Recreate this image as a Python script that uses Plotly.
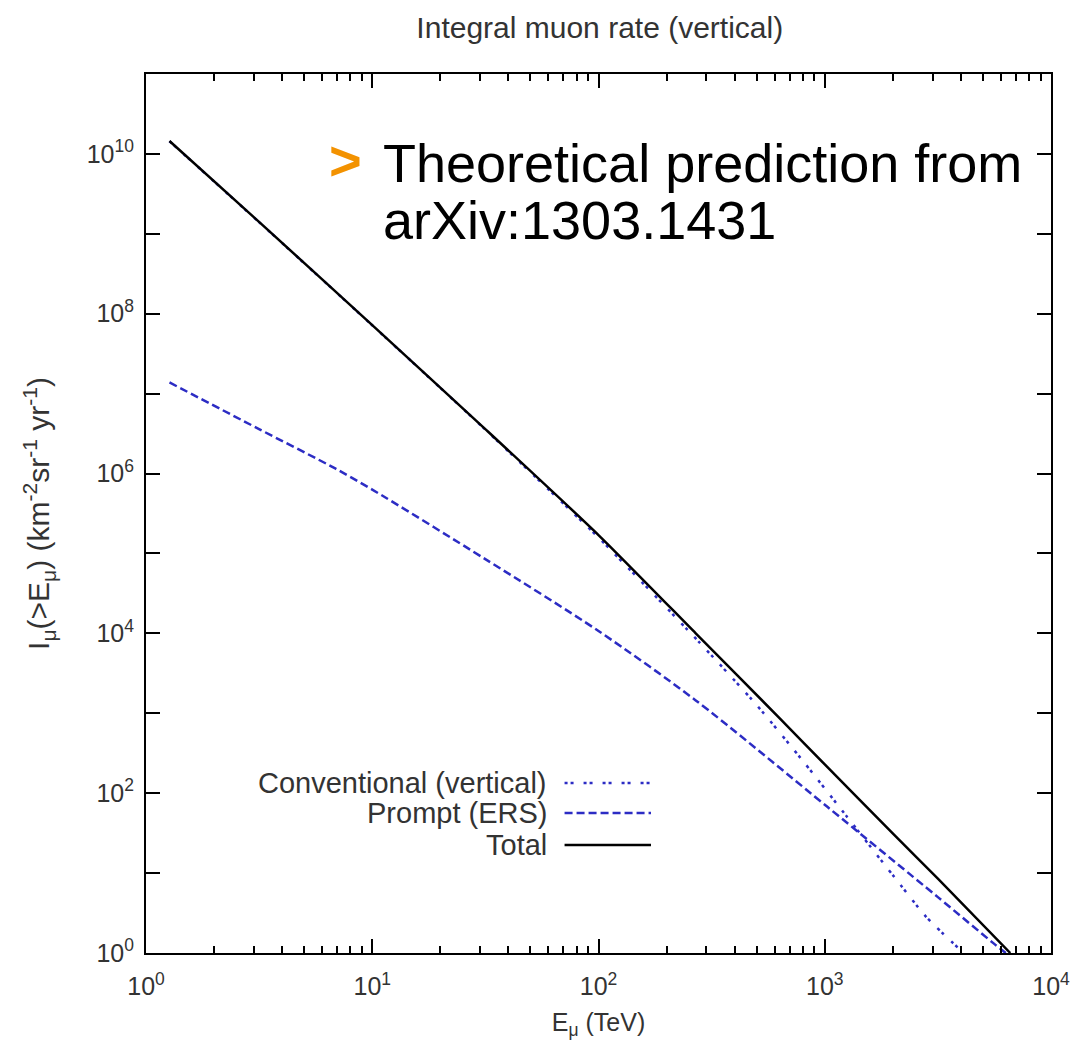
import plotly.graph_objects as go

# ---- data ----
energy_total = [1.27, 3.16, 10, 31.6, 100, 269, 631, 1000, 2028, 3162, 6607]
rate_total = [1.45e10, 1.41e9, 7.2e7, 3.6e6, 1.7e5, 1.0e4, 871, 229, 30.0, 8.5, 1.0]

energy_conv = [1.27, 3.16, 10, 31.6, 100, 277, 501, 813, 1259, 1995, 2818, 4111]
rate_conv = [1.44e10, 1.40e9, 7.16e7, 3.55e6, 1.58e5, 7.9e3, 1.26e3, 240, 50, 9.5, 2.8, 1.0]

energy_prompt = [1.27, 3.16, 6.89, 10, 31.6, 100, 269, 1030, 3162, 5560, 6310]
rate_prompt = [1.38e7, 3.6e6, 1.15e6, 6.3e5, 8.5e4, 1.07e4, 1.45e3, 67, 5.0, 1.33, 1.0]

x_ticks = [1, 10, 100, 1000, 10000]
x_ticktext = ["10<sup>0</sup>", "10<sup>1</sup>", "10<sup>2</sup>", "10<sup>3</sup>", "10<sup>4</sup>"]
y_ticks = [10 ** k for k in range(0, 12)]
y_ticktext = [("10<sup>%d</sup>" % k) if k % 2 == 0 and k <= 10 else "" for k in range(0, 12)]
x_minor = [m * 10 ** d for d in range(0, 4) for m in range(2, 10)]

series_names = ["Conventional (vertical)", "Prompt (ERS)", "Total"]

BLUE = "#2c2cc4"
GRAY = "#333333"
FONT = "Liberation Sans, Arial, sans-serif"
DOT = "3px,3px,3px,10px"
DASH = "8px,4px"

fig = go.Figure()
fig.add_trace(go.Scatter(x=energy_conv, y=rate_conv, mode="lines", name=series_names[0],
                         line=dict(color=BLUE, width=2.5, dash=DOT, shape="spline", smoothing=0.6)))
fig.add_trace(go.Scatter(x=energy_prompt, y=rate_prompt, mode="lines", name=series_names[1],
                         line=dict(color=BLUE, width=2.5, dash=DASH, shape="spline", smoothing=0.8)))
fig.add_trace(go.Scatter(x=energy_total, y=rate_total, mode="lines", name=series_names[2],
                         line=dict(color="black", width=2.5, shape="spline", smoothing=0.6)))

# legend in gnuplot style (text left, sample right)
legend_rows_y = [0.1934, 0.1593, 0.1229]
legend_dash = [DOT, DASH, "solid"]
legend_col = [BLUE, BLUE, "black"]
for name, yy, dsh, col in zip(series_names, legend_rows_y, legend_dash, legend_col):
    fig.add_annotation(xref="paper", yref="paper", x=0.445, y=yy, text=name, showarrow=False,
                       xanchor="right", yanchor="middle",
                       font=dict(family=FONT, size=29, color=GRAY))
    fig.add_shape(type="line", xref="paper", yref="paper", x0=0.4625, x1=0.558, y0=yy, y1=yy,
                  line=dict(color=col, width=2.5, dash=dsh))

# overlay text
fig.add_annotation(xref="paper", yref="paper", x=0.26, y=0.899, xanchor="left", yanchor="middle",
                   text="Theoretical prediction from", showarrow=False,
                   font=dict(family=FONT, size=54, color="black"))
fig.add_annotation(xref="paper", yref="paper", x=0.26, y=0.834, xanchor="left", yanchor="middle",
                   text="arXiv:1303.1431", showarrow=False,
                   font=dict(family=FONT, size=54, color="black"))
fig.add_annotation(xref="paper", yref="paper", x=0.2, y=0.902, xanchor="left", yanchor="middle",
                   text="<b>&gt;</b>", showarrow=False,
                   font=dict(family=FONT, size=56, color="#F39200"))

axis_common = dict(showline=True, linecolor="black", linewidth=2, mirror="allticks",
                   ticks="inside", ticklen=14, tickwidth=1.5, tickcolor="black",
                   showgrid=False, zeroline=False,
                   tickfont=dict(family=FONT, size=25, color=GRAY))

fig.update_xaxes(type="log", range=[0, 4], tickvals=x_ticks, ticktext=x_ticktext,
                 ticklabelstandoff=10,
                 minor=dict(ticks="inside", ticklen=7, tickwidth=1.5, tickcolor="black", tickvals=x_minor),
                 title=dict(text="E<sub>μ</sub> (TeV)", font=dict(family=FONT, size=25, color=GRAY), standoff=14),
                 **axis_common)
fig.update_yaxes(type="log", range=[0, 11], tickvals=y_ticks, ticktext=y_ticktext,
                 ticklabelstandoff=5,
                 title=dict(text="I<sub>μ</sub>(>E<sub>μ</sub>) (km<sup>-2</sup>sr<sup>-1</sup> yr<sup>-1</sup>)",
                            font=dict(family=FONT, size=30, color=GRAY), standoff=28),
                 **axis_common)

fig.update_layout(
    width=1074, height=1040,
    margin=dict(l=138, r=24, t=66, b=95),
    paper_bgcolor="white", plot_bgcolor="white",
    showlegend=False,
    title=dict(text="Integral muon rate (vertical)", x=0.551, xanchor="center", y=0.981, yanchor="middle",
               font=dict(family=FONT, size=30, color=GRAY)),
)

fig.write_html("out.html")
